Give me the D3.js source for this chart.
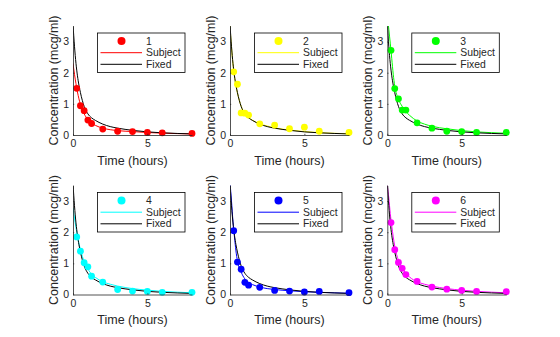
<!DOCTYPE html>
<html>
<head>
<meta charset="utf-8">
<script src="https://cdn.jsdelivr.net/npm/d3@7"></script>
<style>
  body { margin: 0; background: #fff; }
  svg { display: block; font-family: "Liberation Sans", Arial, sans-serif; }
  .axis path, .axis line { stroke: #262626; stroke-width: 0.8; }
  .axis text { fill: #262626; font-size: 10.5px; font-family: "Liberation Sans", Arial, sans-serif; }
</style>
</head>
<body>
<div id="chart"></div>
<script>
// Indomethacin concentrations, one array per subject
const sampleTimes = [0.25, 0.5, 0.75, 1, 1.25, 2, 3, 4, 5, 6, 8];
const conc1 = [1.50, 0.94, 0.78, 0.48, 0.37, 0.19, 0.12, 0.11, 0.08, 0.07, 0.05];
const conc2 = [2.03, 1.63, 0.71, 0.70, 0.64, 0.36, 0.32, 0.20, 0.25, 0.12, 0.08];
const conc3 = [2.72, 1.49, 1.16, 0.80, 0.80, 0.39, 0.22, 0.12, 0.11, 0.08, 0.08];
const conc4 = [1.85, 1.39, 1.02, 0.89, 0.59, 0.40, 0.16, 0.11, 0.10, 0.07, 0.07];
const conc5 = [2.05, 1.04, 0.81, 0.39, 0.30, 0.23, 0.13, 0.11, 0.08, 0.10, 0.06];
const conc6 = [2.31, 1.44, 1.03, 0.84, 0.64, 0.42, 0.24, 0.17, 0.13, 0.10, 0.09];

// Fitted curves (per-subject and fixed effects), read at these times
const curveTimes = [0, 0.1, 0.2, 0.3, 0.4, 0.5, 0.75, 1, 1.25, 1.5, 2, 2.5, 3, 4, 5, 6, 7, 8];
const fixedFit = [3.55, 2.85, 2.3, 1.9, 1.6, 1.36, 0.92, 0.68, 0.55, 0.47, 0.35, 0.27, 0.22, 0.15, 0.10, 0.07, 0.05, 0.035];
const fit1 = [2.3, 1.95, 1.65, 1.38, 1.16, 0.98, 0.68, 0.5, 0.38, 0.31, 0.22, 0.17, 0.14, 0.11, 0.08, 0.06, 0.045, 0.035];
const fit2 = [3.5, 2.8, 2.28, 1.88, 1.58, 1.35, 0.92, 0.7, 0.57, 0.48, 0.36, 0.29, 0.23, 0.16, 0.11, 0.075, 0.055, 0.04];
const fit3 = [3.9, 3.4, 2.95, 2.45, 1.95, 1.58, 1.15, 0.92, 0.75, 0.63, 0.45, 0.35, 0.28, 0.2, 0.14, 0.1, 0.075, 0.055];
const fit4 = [2.78, 2.45, 2.15, 1.88, 1.64, 1.44, 1.06, 0.82, 0.65, 0.55, 0.41, 0.33, 0.27, 0.19, 0.14, 0.1, 0.075, 0.055];
const fit5 = [3.6, 3.0, 2.35, 1.85, 1.4, 1.08, 0.72, 0.5, 0.38, 0.32, 0.24, 0.19, 0.16, 0.12, 0.09, 0.07, 0.055, 0.04];
const fit6 = [3.5, 3.1, 2.6, 2.2, 1.85, 1.55, 1.1, 0.86, 0.68, 0.56, 0.41, 0.33, 0.27, 0.19, 0.14, 0.1, 0.075, 0.055];

const subjectNames = ["1", "2", "3", "4", "5", "6"];
const observed = [conc1, conc2, conc3, conc4, conc5, conc6];
const subjectFits = [fit1, fit2, fit3, fit4, fit5, fit6];
const xTicks = [0, 5];
const yTicks = [0, 1, 2, 3];

const colors = ["#ff0000", "#ffff00", "#00ff00", "#00ffff", "#0000ff", "#ff00ff"];

const width = 560, height = 337;
const colLeft = [73, 230, 387.3];
const rowTop = [26, 185.5];
const axW = 119, axH = 109;

const svg = d3.select("#chart").append("svg")
  .attr("width", width)
  .attr("height", height);

subjectNames.forEach((name, i) => {
  const left = colLeft[i % 3];
  const top = rowTop[Math.floor(i / 3)];

  const x = d3.scaleLinear().domain([0, 8]).range([0, axW]);
  const y = d3.scaleLinear().domain([0, 3.5]).range([axH, 0]);

  const g = svg.append("g").attr("transform", `translate(${left},${top})`);

  // clip the fitted lines to the plot area
  const clipId = "clip" + i;
  g.append("clipPath").attr("id", clipId)
    .append("rect").attr("width", axW).attr("height", axH);

  const line = d3.line()
    .x((d) => x(d[0]))
    .y((d) => y(d[1]))
    .curve(d3.curveMonotoneX);

  const lines = g.append("g").attr("clip-path", `url(#${clipId})`);

  // subject fit
  lines.append("path")
    .datum(curveTimes.map((t, k) => [t, subjectFits[i][k]]))
    .attr("d", line)
    .attr("fill", "none")
    .attr("stroke", colors[i])
    .attr("stroke-width", 1);

  // fixed-effects fit
  lines.append("path")
    .datum(curveTimes.map((t, k) => [t, fixedFit[k]]))
    .attr("d", line)
    .attr("fill", "none")
    .attr("stroke", "#000")
    .attr("stroke-width", 1);

  // observations
  g.append("g")
    .selectAll("circle")
    .data(sampleTimes.map((t, k) => [t, observed[i][k]]))
    .join("circle")
    .attr("cx", (d) => x(d[0]))
    .attr("cy", (d) => y(d[1]))
    .attr("r", 3.4)
    .attr("fill", colors[i]);

  // axes
  g.append("g")
    .attr("class", "axis")
    .attr("transform", `translate(0,${axH})`)
    .call(d3.axisBottom(x).tickValues(xTicks).tickFormat(d3.format("d"))
      .tickSize(-1.2).tickPadding(5).tickSizeOuter(0));

  g.append("g")
    .attr("class", "axis")
    .call(d3.axisLeft(y).tickValues(yTicks).tickFormat(d3.format("d"))
      .tickSize(-1.2).tickPadding(4).tickSizeOuter(0));

  // axis labels
  g.append("text")
    .attr("x", axW / 2)
    .attr("y", axH + 29.5)
    .attr("text-anchor", "middle")
    .attr("font-size", 12.5)
    .attr("fill", "#262626")
    .text("Time (hours)");

  g.append("text")
    .attr("transform", `translate(-15,${axH / 2}) rotate(-90)`)
    .attr("text-anchor", "middle")
    .attr("font-size", 12.5)
    .attr("fill", "#262626")
    .text("Concentration (mcg/ml)");

  // legend
  const leg = g.append("g").attr("transform", "translate(24.5,7)");
  leg.append("rect")
    .attr("width", 87.5)
    .attr("height", 39.5)
    .attr("fill", "#fff")
    .attr("stroke", "#000")
    .attr("stroke-width", 0.8);

  const rows = [8, 19.7, 31.3];
  leg.append("circle")
    .attr("cx", 24)
    .attr("cy", rows[0])
    .attr("r", 4)
    .attr("fill", colors[i]);
  leg.append("line")
    .attr("x1", 3).attr("x2", 44.5)
    .attr("y1", rows[1]).attr("y2", rows[1])
    .attr("stroke", colors[i]);
  leg.append("line")
    .attr("x1", 3).attr("x2", 44.5)
    .attr("y1", rows[2]).attr("y2", rows[2])
    .attr("stroke", "#000");

  [name, "Subject", "Fixed"].forEach((label, k) => {
    leg.append("text")
      .attr("x", 48.5)
      .attr("y", rows[k])
      .attr("dy", "0.35em")
      .attr("font-size", 10.4)
      .attr("fill", "#262626")
      .text(label);
  });
});
</script>
</body>
</html>
